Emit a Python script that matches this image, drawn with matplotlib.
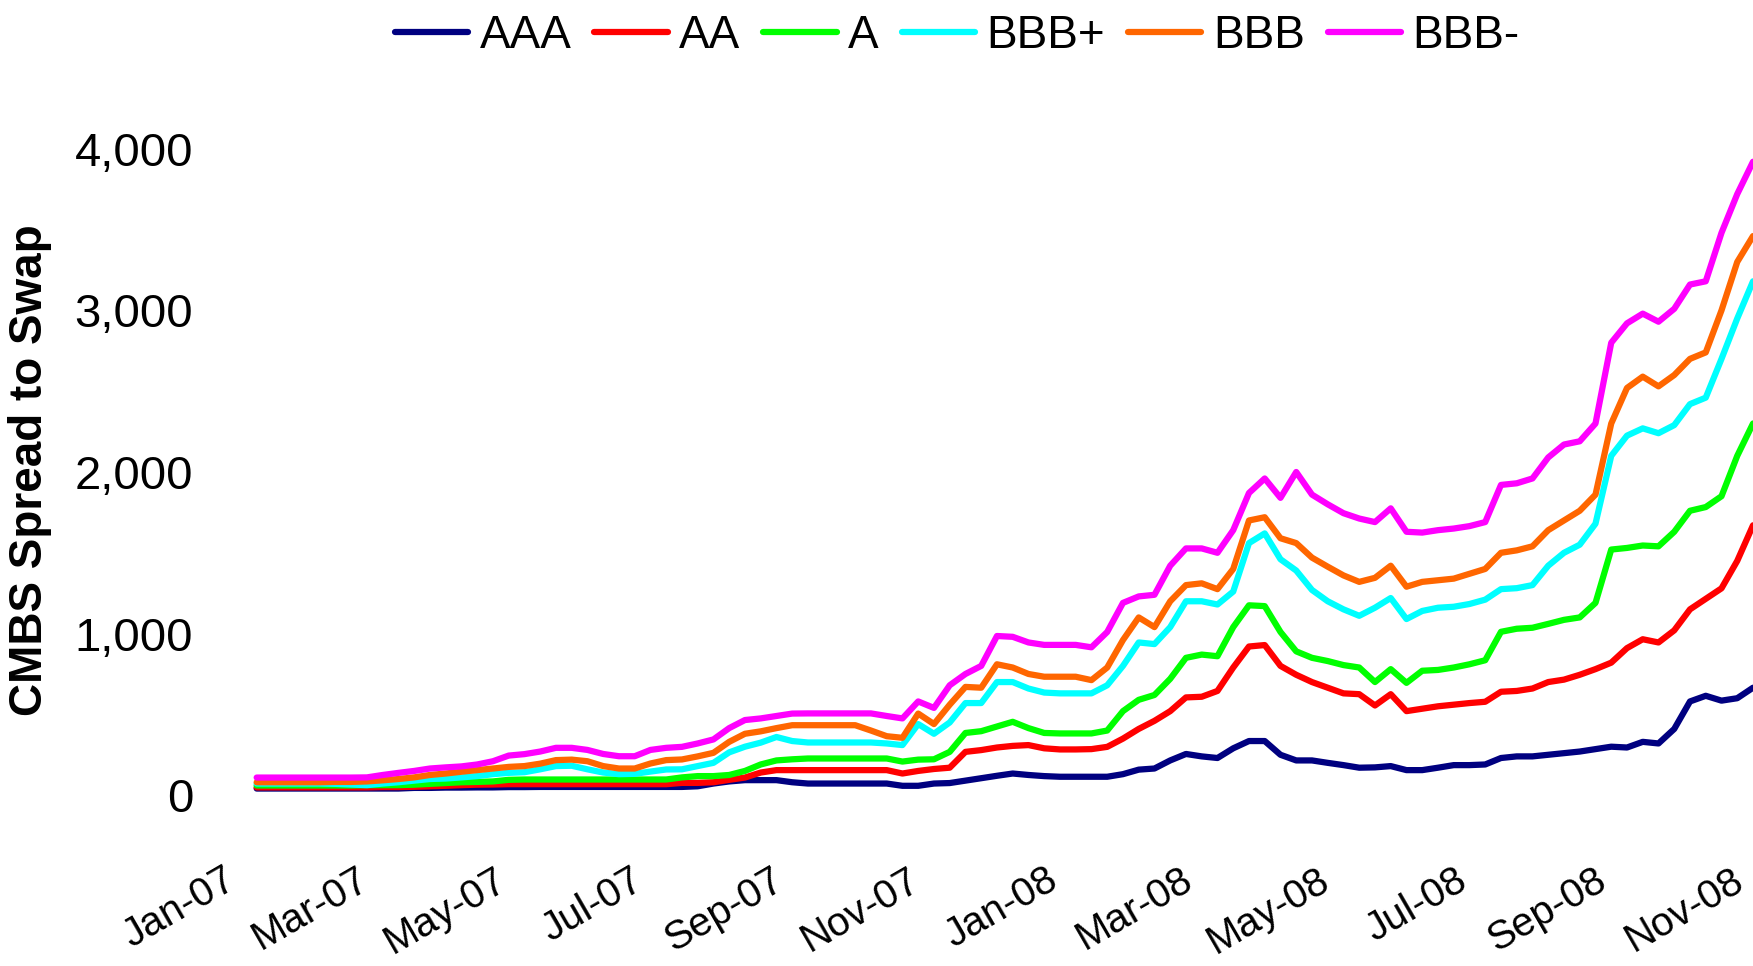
import matplotlib
matplotlib.use("Agg")
import matplotlib.pyplot as plt
import matplotlib.dates as mdates
import matplotlib.ticker as mticker
import matplotlib.transforms as mtransforms
import pandas as pd

# weekly observations, Fridays
dates = pd.date_range("2007-01-12", "2008-11-07", freq="7D")

aaa = [41] * 10 + [45, 45, 47, 47, 48, 48, 50, 50, 51, 51, 51, 51, 51, 51, 51, 51, 51, 51] \
    + [55, 72, 85, 93, 93, 93, 80] + [72] * 6 \
    + [58, 58, 72, 75, 90, 105, 120, 134, 125, 118] + [114] * 4 \
    + [130, 158, 165, 215, 255, 240, 230, 290, 335, 335] \
    + [250, 215, 215, 200, 186, 170, 172, 180, 155, 155] \
    + [170, 186, 186, 190, 230, 240, 240, 250, 260, 270] \
    + [285, 300, 295, 330, 320, 410, 580, 615, 585, 600, 665]

aa = [48] * 8 + [50, 50, 52, 55, 58, 62, 65, 66, 68] + [68] * 10 \
    + [76, 76, 80, 95, 109, 140, 155] + [155] * 7 \
    + [134, 150, 162, 170, 268, 279, 295, 305, 310, 290] + [283, 283, 285, 299] \
    + [350, 410, 460, 520, 605, 609, 645, 790, 920, 929] \
    + [800, 745, 700, 665, 630, 625, 555, 625, 520, 535] \
    + [550, 560, 570, 578, 640, 645, 660, 700, 715, 745] \
    + [780, 820, 910, 965, 945, 1020, 1150, 1215, 1280, 1450, 1670]

a = [60] * 7 + [62, 62, 62, 65, 70, 75, 80, 82, 85, 95] + [97] * 10 \
    + [110, 118, 118, 125, 150, 190, 215, 222] + [227] * 6 \
    + [208, 220, 222, 268, 385, 396, 425, 454, 415, 385] + [382, 382, 382, 400] \
    + [520, 590, 620, 720, 850, 870, 860, 1040, 1175, 1170] \
    + [1010, 890, 850, 830, 805, 790, 700, 780, 695, 770] \
    + [775, 790, 810, 835, 1011, 1030, 1036, 1060, 1085, 1100] \
    + [1190, 1520, 1530, 1545, 1540, 1630, 1760, 1783, 1850, 2100, 2300]

bbb_plus = [72, 72, 72, 72, 72, 70, 66, 62, 72, 80] \
    + [90, 100, 103, 110, 118, 130, 138, 142, 160, 180] \
    + [182, 160, 140, 130, 132, 146, 159, 160, 180, 200] \
    + [265, 300, 325, 360, 335] + [326, 326, 326, 326, 326, 320, 310] \
    + [440, 380, 450, 570, 570, 700, 700, 660, 635] + [630] * 3 \
    + [680, 800, 945, 935, 1040, 1200, 1200, 1180, 1260, 1560, 1620] \
    + [1460, 1390, 1270, 1200, 1150, 1110, 1160, 1220, 1090, 1140] \
    + [1160, 1166, 1183, 1210, 1275, 1281, 1300, 1420, 1500, 1550] \
    + [1680, 2100, 2225, 2270, 2240, 2290, 2420, 2460, 2700, 2950, 3180]

bbb = [80, 80, 80, 80, 80, 82, 82, 85] \
    + [92, 100, 110, 125, 134, 145, 155, 165, 175, 180] \
    + [195, 217, 220, 210, 180, 165, 165, 196, 217, 221] \
    + [240, 262, 330, 380, 395, 415, 433] + [433] * 4 \
    + [400, 365, 355, 505, 440, 560, 670, 665, 810, 790, 750, 733] + [733, 733, 712] \
    + [790, 960, 1100, 1040, 1200, 1300, 1311, 1275, 1400, 1700, 1720] \
    + [1590, 1560, 1470, 1414, 1360, 1320, 1345, 1420, 1290, 1320] \
    + [1330, 1340, 1370, 1400, 1500, 1515, 1540, 1640, 1700, 1760] \
    + [1860, 2300, 2520, 2590, 2530, 2600, 2700, 2740, 3000, 3300, 3460]

bbb_minus = [109] * 7 + [110] \
    + [125, 138, 150, 165, 172, 178, 190, 210, 245, 254] \
    + [270, 293, 293, 280, 255, 241, 241, 280, 293, 299] \
    + [320, 345, 415, 465, 475, 490, 505] + [506] * 5 \
    + [490, 475, 580, 540, 680, 750, 800, 985, 980, 945, 930] + [930, 930, 915] \
    + [1010, 1190, 1230, 1240, 1420, 1527, 1527, 1500, 1640, 1870, 1960] \
    + [1840, 2000, 1860, 1800, 1745, 1712, 1690, 1775, 1630, 1625] \
    + [1640, 1650, 1665, 1690, 1920, 1930, 1960, 2090, 2170, 2190] \
    + [2300, 2800, 2920, 2980, 2930, 3010, 3160, 3180, 3480, 3720, 3920]

labels = ["AAA", "AA", "A", "BBB+", "BBB", "BBB-"]
colours = ["#000080", "#ff0000", "#00ff00", "#00ffff", "#ff6600", "#ff00ff"]
series = [aaa, aa, a, bbb_plus, bbb, bbb_minus]

plt.rcParams["font.family"] = ["Liberation Sans", "DejaVu Sans"]

fig = plt.figure(figsize=(17.53, 9.66), dpi=100)
ax = fig.add_axes([0.1323, 0.0932, 0.8677, 0.8364])

for vals, lab, col in zip(series, labels, colours):
    ax.plot(dates, vals, color=col, lw=4.5, label=lab,
            solid_capstyle="round", solid_joinstyle="round")

ax.set_xlim(pd.Timestamp("2007-01-01"), pd.Timestamp("2008-11-07"))
ax.set_ylim(-500, 4500)
ax.set_yticks([0, 1000, 2000, 3000, 4000])
ax.yaxis.set_major_formatter(mticker.StrMethodFormatter("{x:,.0f}"))
ax.xaxis.set_major_locator(mdates.MonthLocator(bymonth=[1, 3, 5, 7, 9, 11]))
ax.xaxis.set_major_formatter(mdates.DateFormatter("%b-%y"))

for s in ax.spines.values():
    s.set_visible(False)
ax.tick_params(axis="y", length=0, pad=28, labelsize=34)
ax.tick_params(axis="x", length=0, pad=-11, labelsize=29)

# nudge the rotated date labels a little to the left so Nov-08 stays inside
shift = mtransforms.ScaledTranslation(-6 / 72, 0, fig.dpi_scale_trans)
for t in ax.get_xticklabels():
    t.set_rotation(30)
    t.set_ha("right")
    t.set_va("top")
    t.set_rotation_mode("anchor")
    t.set_transform(t.get_transform() + shift)

fig.text(0.0171, 0.5135, "CMBS Spread to Swap", rotation=90, ha="center",
         va="center", fontsize=33, fontweight="bold")

fig.legend(loc="center", bbox_to_anchor=(0.546, 0.963), ncol=6, frameon=False,
           fontsize=33, handlelength=1.6, handletextpad=0.25, columnspacing=0.5)

fig.savefig("out.png", dpi=100)
